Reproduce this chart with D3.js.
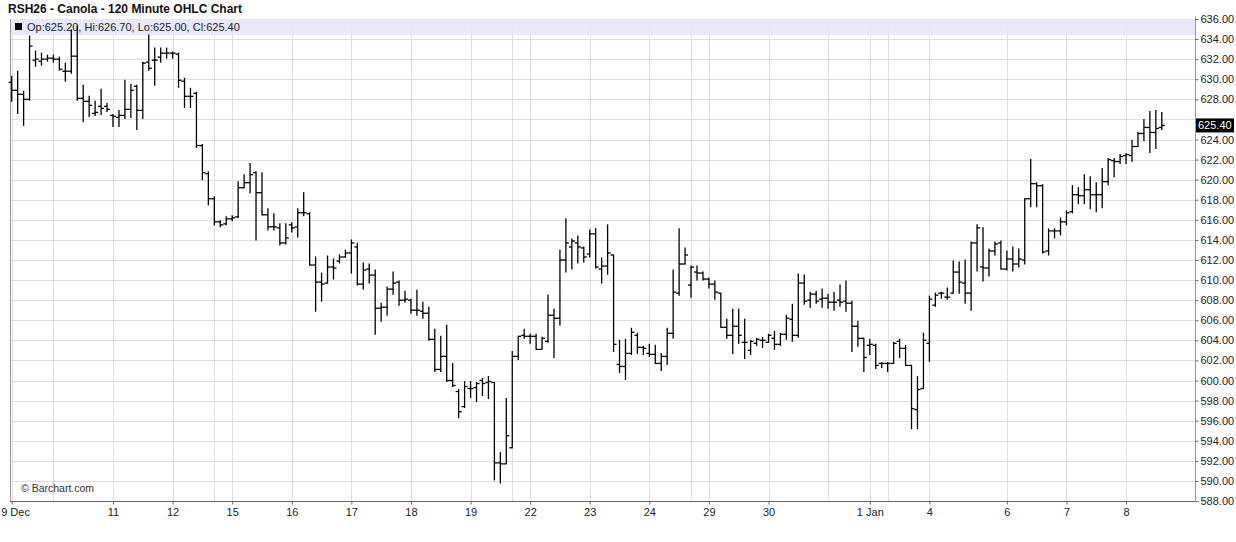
<!DOCTYPE html>
<html><head><meta charset="utf-8">
<script src="https://cdn.jsdelivr.net/npm/d3@7/dist/d3.min.js"></script>
<style>
body{margin:0;background:#fff;}
svg{display:block;font-family:"Liberation Sans",Arial,sans-serif;}
</style>
</head><body>
<svg id="chart" width="1236" height="542"></svg>
<script>
// ---- data ----
const opens = [629.7,628.9,628.5,628.0,631.9,631.8,632.0,632.1,632.0,630.8,630.8,632.3,628.1,627.8,626.6,627.3,627.3,626.4,626.2,626.4,
627.0,629.3,626.9,631.7,631.9,632.2,632.6,632.6,632.5,629.8,628.3,628.6,623.4,620.6,618.1,615.8,615.6,616.1,616.3,619.2,
619.7,620.7,618.7,616.5,615.3,615.2,613.7,615.5,615.3,616.7,616.6,611.5,609.8,609.7,611.3,611.9,612.3,612.7,613.3,609.6,
611.1,610.5,607.2,607.3,609.1,609.8,608.0,608.0,607.0,606.9,606.7,604.1,601.1,602.4,600.0,598.9,597.4,599.2,599.3,600.0,
599.8,599.8,591.8,591.7,593.3,602.4,604.5,604.4,604.4,603.1,603.9,606.5,606.2,612.0,613.3,613.7,613.2,612.6,614.6,611.1,
611.4,612.5,601.6,601.4,602.7,604.5,603.3,602.7,602.6,601.7,602.4,604.7,608.7,611.6,609.5,610.8,610.7,610.1,609.6,608.7,
605.3,604.5,605.4,603.8,603.0,603.7,604.0,603.8,604.2,603.6,604.6,606.1,604.5,609.7,608.0,608.6,608.1,608.2,607.8,608.0,
607.9,607.7,605.4,604.2,603.5,603.5,601.7,601.7,601.7,603.9,603.2,601.5,597.1,599.2,603.7,607.5,608.7,608.3,608.7,610.8,
609.7,608.7,613.7,611.3,611.2,612.9,613.7,611.1,612.1,611.6,612.0,618.1,619.6,619.4,612.9,614.9,614.9,615.8,616.8,618.5,
618.4,619.0,618.5,618.5,619.8,621.9,621.8,622.4,622.4,623.3,624.6,625.2,624.7,625.2];
const highs = [630.3,630.8,628.8,634.3,632.8,632.6,632.4,632.4,632.2,631.6,634.9,635.3,629.4,628.3,627.8,629.0,627.6,626.5,626.9,629.9,
629.5,629.4,631.7,634.4,633.1,633.1,633.1,632.7,632.6,630.1,629.1,628.7,623.5,620.8,618.3,615.9,616.3,616.4,619.8,620.5,
621.6,620.8,620.7,617.1,616.6,615.6,615.6,615.7,617.1,618.7,616.7,612.3,610.7,612.4,612.1,612.5,613.0,614.0,613.7,611.7,
611.6,611.0,607.7,609.3,610.8,609.9,608.9,608.1,609.0,607.8,607.3,605.1,604.4,605.5,601.7,599.1,599.9,599.9,599.8,600.2,
600.4,599.8,592.8,598.2,602.9,604.4,605.1,604.6,604.6,604.3,608.5,607.1,613.0,616.1,614.1,614.4,613.3,615.0,615.1,612.2,
615.5,612.5,604.0,604.1,605.2,604.7,603.4,603.6,603.5,602.7,605.2,611.0,615.1,613.2,611.4,611.4,610.8,610.2,609.9,608.7,
606.1,607.1,607.1,606.1,604.0,604.2,604.3,604.6,604.9,604.7,606.5,607.6,610.6,610.5,608.8,608.9,609.1,608.6,608.8,609.5,
609.9,607.9,605.9,604.2,604.1,603.6,601.8,601.8,603.8,604.1,603.5,601.5,600.4,604.7,608.4,608.7,608.8,609.2,611.9,611.8,
612.0,613.8,615.5,615.2,613.1,613.8,613.9,612.9,613.3,613.1,618.1,622.0,619.7,619.5,615.1,615.1,616.2,616.9,619.4,619.2,
620.5,620.3,619.7,621.1,622.1,622.1,622.5,622.6,623.9,624.7,626.0,626.8,626.9,626.7];
const lows = [627.8,626.6,625.4,627.9,631.3,631.4,631.8,631.7,630.9,629.8,630.6,627.9,625.8,626.3,626.4,626.5,626.8,625.3,625.3,626.1,
626.2,625.0,626.1,630.9,629.4,631.7,632.1,632.1,629.2,627.2,627.2,623.2,620.0,617.5,615.5,615.3,615.5,615.9,616.2,619.2,
618.7,614.0,616.5,615.0,615.0,613.5,613.6,614.8,614.3,616.4,611.5,606.9,607.9,609.7,610.1,611.7,612.3,610.7,609.5,609.1,
609.7,604.6,605.9,606.5,608.6,607.5,607.8,606.7,606.5,606.2,604.0,600.9,600.9,599.9,599.4,596.3,597.3,598.3,597.9,598.5,
598.2,590.1,589.8,591.7,593.3,602.1,604.2,603.7,603.1,603.1,603.8,602.3,605.5,610.8,611.1,611.7,611.8,612.3,611.2,609.7,
610.6,602.9,600.8,600.1,602.6,602.7,602.6,602.4,601.7,601.0,601.6,604.2,608.5,611.6,608.3,610.0,610.0,609.2,608.1,605.3,
604.2,602.7,603.7,602.2,602.6,603.5,603.3,603.8,603.1,603.5,604.1,603.9,604.3,607.6,607.3,607.7,607.3,607.2,607.0,607.4,
606.9,602.9,603.4,600.9,602.6,601.2,601.3,600.9,601.7,602.3,601.5,595.2,595.2,599.2,601.9,607.4,608.2,608.1,608.7,608.7,
607.7,607.0,610.9,609.9,610.4,612.5,611.1,611.0,610.9,611.3,611.6,617.3,617.3,612.7,612.5,614.2,614.5,615.5,616.7,617.6,
617.6,617.1,616.8,617.2,619.5,620.3,621.6,621.6,621.8,623.3,623.9,622.7,623.1,625.0];
const closes = [628.9,628.5,628.0,633.3,632.0,632.0,632.1,632.0,631.0,630.8,632.3,628.1,627.8,627.4,626.7,627.1,627.0,626.3,626.4,627.0,
628.9,626.9,631.6,631.1,631.9,632.6,632.6,632.6,629.9,628.3,628.3,623.4,620.7,618.1,615.8,615.5,616.1,616.2,619.2,619.7,
620.5,618.7,616.5,615.3,615.3,613.7,614.2,615.2,616.7,616.7,611.5,609.8,609.6,611.3,611.2,612.3,612.7,613.7,609.6,611.0,
610.5,607.2,607.3,609.1,609.7,608.0,608.1,607.0,607.0,606.7,604.1,601.1,602.4,600.0,599.5,596.9,599.4,599.2,599.7,599.7,
599.9,591.8,591.7,594.5,602.4,604.4,604.4,604.4,603.1,604.2,606.5,606.2,612.0,613.7,613.9,613.3,612.3,614.6,611.3,611.4,
612.7,603.6,601.4,602.7,604.8,603.3,603.2,602.6,601.7,602.4,604.7,608.8,611.6,612.5,611.3,610.7,610.1,609.6,608.8,605.3,
604.5,605.4,604.5,603.8,603.9,604.1,604.0,604.5,603.6,604.6,606.2,604.5,609.7,607.9,608.6,607.9,608.2,607.8,607.8,607.8,
607.7,605.4,604.2,602.3,603.6,601.5,601.7,601.7,603.7,603.2,601.5,597.2,599.1,604.0,608.1,608.5,608.7,608.3,610.8,609.8,
608.7,613.7,615.2,611.2,612.9,613.6,611.1,612.1,611.6,612.1,618.1,619.6,619.4,612.8,614.9,614.9,615.8,616.7,618.5,618.4,
619.0,618.5,618.5,619.8,622.0,621.8,622.3,622.5,623.3,624.6,625.2,624.7,625.1,625.4];

const tickIndex  = [0,17,27,37,47,57,67,77,87,97,107,117,127,144,154,167,177,187];
const tickLabels = ["9 Dec","11","12","15","16","17","18","19","22","23","24","29","30","1 Jan","4","6","7","8"];
const extraGridIndex = [7,34,84,114,137,147];
const priceTicks = d3.range(588, 636.001, 2);
const titleText = "RSH26 - Canola - 120 Minute OHLC Chart";
const legendText = "Op:625.20, Hi:626.70, Lo:625.00, Cl:625.40";
const lastPrice = 625.40;
const creditText = "\u00a9 Barchart.com";

// ---- layout ----
const plot = {left:10, right:1195, top:19, bottom:501};
const svg = d3.select("#chart");

const bars = opens.map((o,i)=>({i, o, h:highs[i], l:lows[i], c:closes[i]}));

const x = d3.scaleLinear().domain([0, bars.length-1]).range([11.7, 1161.8]);
const y = d3.scaleLinear().domain([588, 636]).range([plot.bottom, plot.top]);

// grid
const grid = svg.append("g");
grid.selectAll("line.h").data(priceTicks).join("line")
  .attr("x1", plot.left).attr("x2", plot.right)
  .attr("y1", d=>Math.round(y(d))+0.5).attr("y2", d=>Math.round(y(d))+0.5)
  .attr("stroke", "#dedede").attr("stroke-width", 1);
grid.selectAll("line.v").data(tickIndex.concat(extraGridIndex)).join("line")
  .attr("x1", d=>Math.round(x(d))+0.5).attr("x2", d=>Math.round(x(d))+0.5)
  .attr("y1", plot.top).attr("y2", plot.bottom)
  .attr("stroke", "#dedede").attr("stroke-width", 1);

// header band
svg.append("rect").attr("x", plot.left+1).attr("y", plot.top)
  .attr("width", plot.right-plot.left-1).attr("height", 16)
  .attr("fill", "#e6e6f7").attr("opacity", 0.9);
svg.append("rect").attr("x", 15).attr("y", 23).attr("width", 7).attr("height", 7).attr("fill", "#000");
svg.append("text").attr("x", 27).attr("y", 31).attr("font-size", 11).attr("fill", "#222").text(legendText);

// frame
svg.append("line").attr("x1", plot.left+0.5).attr("x2", plot.left+0.5).attr("y1", plot.top).attr("y2", plot.bottom).attr("stroke", "#999");
svg.append("line").attr("x1", plot.right+0.5).attr("x2", plot.right+0.5).attr("y1", plot.top-3).attr("y2", plot.bottom).attr("stroke", "#999");

// OHLC bars
const g = svg.append("g").attr("stroke", "#000").attr("stroke-width", 1.3);
g.selectAll("line.hl").data(bars).join("line")
  .attr("x1", d=>x(d.i)).attr("x2", d=>x(d.i))
  .attr("y1", d=>y(d.h)-0.5).attr("y2", d=>y(d.l)+0.5);
g.selectAll("line.o").data(bars).join("line")
  .attr("x1", d=>x(d.i)-3).attr("x2", d=>x(d.i))
  .attr("y1", d=>y(d.o)).attr("y2", d=>y(d.o));
g.selectAll("line.c").data(bars).join("line")
  .attr("x1", d=>x(d.i)).attr("x2", d=>x(d.i)+3)
  .attr("y1", d=>y(d.c)).attr("y2", d=>y(d.c));

// axes
const xAxis = d3.axisBottom(x).tickValues(tickIndex).tickFormat((d,i)=>tickLabels[i]).tickSize(3).tickPadding(4);
const gx = svg.append("g").attr("transform", `translate(0,${plot.bottom+0.5})`).call(xAxis);
gx.select(".domain").attr("d", `M${plot.left},0H${plot.right}`).attr("stroke", "#666");
gx.selectAll(".tick line").attr("stroke", "#666");
gx.selectAll("text").attr("font-size", 11).attr("fill", "#222").attr("font-family", "Liberation Sans, Arial, sans-serif");
gx.selectAll(".tick text").filter((d,i)=>i===0).attr("text-anchor", "start").attr("x", -11);

// right price axis; the label hidden under the last-price box is left out, as in the reference
const yAxis = d3.axisRight(y).tickValues(priceTicks)
  .tickFormat(d => Math.abs(y(d) - y(lastPrice)) < 12 ? "" : d3.format(".2f")(d))
  .tickSize(3).tickPadding(2);
const gy = svg.append("g").attr("transform", `translate(${plot.right+0.5},0)`).call(yAxis);
gy.select(".domain").remove();
gy.selectAll(".tick line").attr("stroke", "#666");
gy.selectAll("text").attr("font-size", 11).attr("fill", "#222").attr("font-family", "Liberation Sans, Arial, sans-serif");

// last price marker
const ly = y(lastPrice);
svg.append("rect").attr("x", plot.right+1).attr("y", ly-7).attr("width", 38).attr("height", 14).attr("fill", "#000");
svg.append("text").attr("x", plot.right+3).attr("y", ly+4).attr("font-size", 11).attr("fill", "#fff").text(d3.format(".2f")(lastPrice));

// title and credit
svg.append("text").attr("x", 8).attr("y", 13).attr("font-size", 12).attr("font-weight", "bold").attr("fill", "#111").text(titleText);
svg.append("text").attr("x", 21).attr("y", 492).attr("font-size", 10.5).attr("fill", "#333").text(creditText);
</script>
</body></html>
